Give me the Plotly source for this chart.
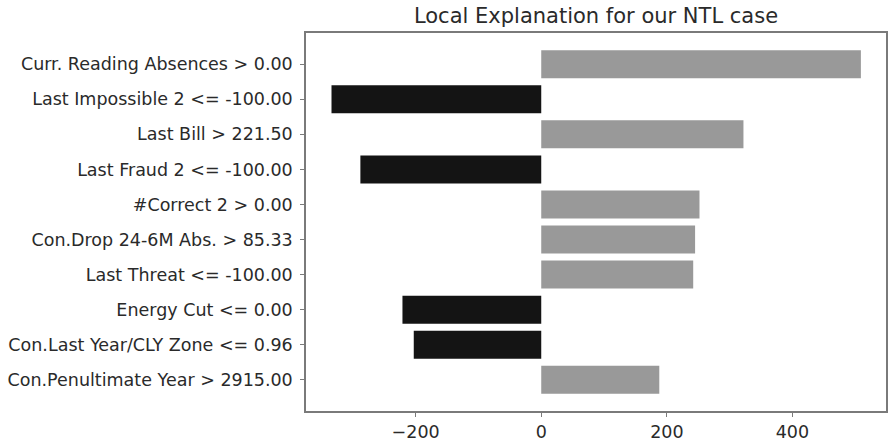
import plotly.graph_objects as go

features = [
    "Curr. Reading Absences > 0.00",
    "Last Impossible 2 <= -100.00",
    "Last Bill > 221.50",
    "Last Fraud 2 <= -100.00",
    "#Correct 2 > 0.00",
    "Con.Drop 24-6M Abs. > 85.33",
    "Last Threat <= -100.00",
    "Energy Cut <= 0.00",
    "Con.Last Year/CLY Zone <= 0.96",
    "Con.Penultimate Year > 2915.00",
]
weights = [509, -334, 322, -288, 252, 245, 242, -221, -203, 188]
x_ticks = [-200, 0, 200, 400]
x_tick_labels = ["\u2212200", "0", "200", "400"]
title_text = "Local Explanation for our NTL case"

POS_COLOR = "#999999"
NEG_COLOR = "#141414"
colors = [POS_COLOR if w > 0 else NEG_COLOR for w in weights]

fig = go.Figure(
    go.Bar(
        x=weights,
        y=features,
        orientation="h",
        marker=dict(color=colors, line=dict(width=0)),
        width=0.8,
        hoverinfo="x+y",
    )
)

FONT = "DejaVu Sans"
TEXT = "#2a2a2a"
AXIS = "#7a7a7a"
TICK_SIZE = 17.5

fig.update_layout(
    width=889,
    height=443,
    margin=dict(l=306, r=1, t=33, b=31),
    paper_bgcolor="white",
    plot_bgcolor="white",
    showlegend=False,
    font=dict(family=FONT, size=TICK_SIZE, color=TEXT),
    title=dict(
        text=title_text,
        x=0.5,
        xref="paper",
        xanchor="center",
        y=1,
        yref="container",
        yanchor="top",
        pad=dict(t=8),
        font=dict(family=FONT, size=21, color=TEXT),
    ),
)

fig.update_xaxes(
    range=[-374.6, 549],
    tickvals=x_ticks,
    ticktext=x_tick_labels,
    showgrid=False,
    zeroline=False,
    showline=True,
    linecolor=AXIS,
    linewidth=1.5,
    mirror=True,
    ticks="outside",
    ticklen=4,
    tickcolor=AXIS,
    tickwidth=1.2,
    ticklabelstandoff=0,
    tickfont=dict(family=FONT, size=TICK_SIZE, color=TEXT),
)

fig.update_yaxes(
    type="category",
    categoryorder="array",
    categoryarray=features,
    range=[len(features) - 1 + 0.89, -0.89],
    showgrid=False,
    zeroline=False,
    showline=True,
    linecolor=AXIS,
    linewidth=1.5,
    mirror=True,
    ticks="outside",
    ticklen=4,
    tickcolor=AXIS,
    tickwidth=1.2,
    ticklabelstandoff=4,
    tickfont=dict(family=FONT, size=TICK_SIZE, color=TEXT),
)

fig.write_html(
    "out.html",
    config={"displayModeBar": False},
    post_script="document.body.style.margin='0';document.body.style.overflow='hidden';",
)
